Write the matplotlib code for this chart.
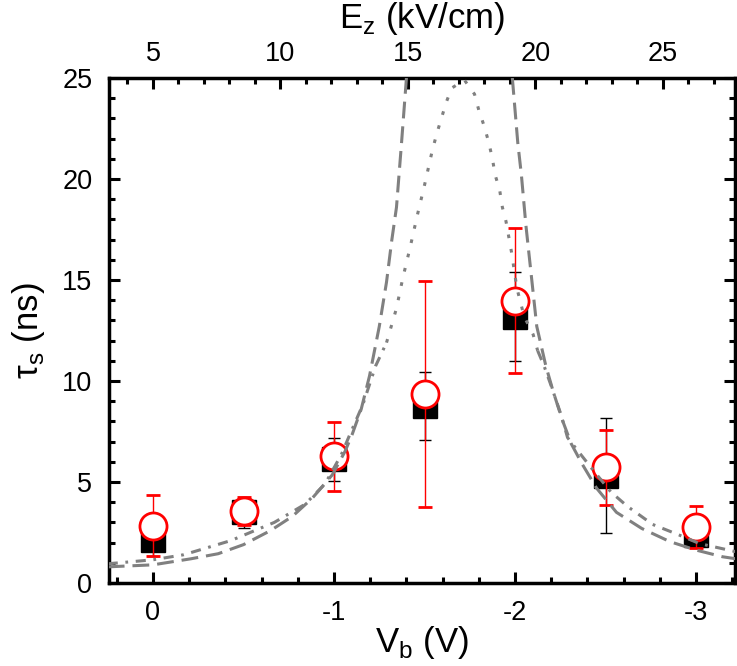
'''
Spin lifetime tau_s versus bias voltage V_b, with field E_z on the top axis.
'''

import matplotlib
matplotlib.use('Agg')
import matplotlib.pyplot as plt

plt.rcParams['font.family'] = ['Liberation Sans', 'DejaVu Sans']
plt.rcParams['mathtext.fontset'] = 'custom'
plt.rcParams['mathtext.rm'] = 'Liberation Sans'

# Measured points
v_bias = [0, -0.5, -1, -1.5, -2, -2.5, -3]
tau_sq = [2.14, 3.5, 6.12, 8.76, 13.18, 5.32, 2.39]
err_sq = [0.8, 0.77, 1.05, 1.67, 2.2, 2.85, 0.5]
tau_ci = [2.84, 3.58, 6.27, 9.35, 13.98, 5.72, 2.79]
err_ci = [1.5, 0.7, 1.72, 5.58, 3.6, 1.86, 1.04]

# Model curve 1 (dashed)
dash_v = [0.25, 0.0, -0.21, -0.36, -0.5, -0.65, -0.77, -0.88, -0.99, -1.06,
          -1.10, -1.15, -1.196, -1.25, -1.29, -1.318, -1.345, -1.373, -1.40]
dash_t = [0.8, 0.9, 1.2, 1.45, 1.9, 2.6, 3.3, 4.2, 5.35, 6.5,
          7.35, 8.6, 10.25, 12.7, 14.9, 16.9, 18.6, 21.8, 25.0]
dash_v2 = [-1.985, -2.015, -2.035, -2.06, -2.09, -2.12, -2.17, -2.21, -2.26,
           -2.31, -2.37, -2.45, -2.56, -2.70, -2.855, -3.0, -3.146, -3.22]
dash_t2 = [25.0, 21.8, 20.2, 17.7, 15.2, 12.7, 10.75, 9.5, 8.1,
           6.9, 5.9, 4.7, 3.5, 2.7, 2.05, 1.63, 1.3, 1.2]

# Model curve 2 (dash-dot, dotted near the peak)
dd_v = [0.25, 0.0, -0.17, -0.43, -0.67, -0.84, -0.95, -1.04, -1.085, -1.16,
        -1.23, -1.29, -1.345, -1.38, -1.42, -1.46, -1.50, -1.54, -1.566, -1.62,
        -1.65, -1.72, -1.776, -1.80, -1.83, -1.855, -1.875, -1.89, -1.915, -1.93,
        -1.95, -1.98, -2.01, -2.05, -2.10, -2.125, -2.16, -2.20, -2.255, -2.29,
        -2.32, -2.43, -2.53, -2.62, -2.76, -2.90, -3.02, -3.22]
dd_t = [0.95, 1.15, 1.4, 2.1, 3.0, 3.9, 4.9, 6.35, 7.3, 8.85,
        10.75, 11.9, 13.6, 15.1, 16.6, 18.2, 19.7, 21.3, 22.2, 23.8,
        24.5, 24.9, 24.2, 23.4, 22.6, 21.8, 21.0, 20.2, 19.45, 18.6,
        17.9, 16.4, 14.6, 13.2, 12.3, 11.5, 10.75, 9.75, 8.3, 7.2,
        6.85, 5.6, 4.5, 3.8, 2.9, 2.4, 1.95, 1.55]

fig = plt.figure(figsize=(7.37, 6.66), dpi=100)
ax = fig.add_axes([0.1479, 0.1246, 0.8494, 0.7583])

gray = '#808080'
dashed = (0, (5.5, 2.6))
dashdot = (0, (3.3, 2.5, 0.9, 2.5))
dotted = (0, (1.2, 3.6))
ax.plot(dash_v, dash_t, color=gray, lw=2.2, ls=dashed, zorder=5)
ax.plot(dash_v2, dash_t2, color=gray, lw=2.2, ls=dashed, zorder=5)
ax.plot(dd_v[:12], dd_t[:12], color=gray, lw=2.2, ls=dashdot, zorder=5)
ax.plot(dd_v[11:36], dd_t[11:36], color=gray, lw=2.2, ls=dotted, zorder=5)
ax.plot(dd_v[35:], dd_t[35:], color=gray, lw=2.2, ls=dashdot, zorder=5)

ax.errorbar(v_bias, tau_sq, yerr=err_sq, fmt='s', color='black', ms=17,
            ecolor='black', elinewidth=1, capsize=4.3, capthick=1, zorder=3)
ax.errorbar(v_bias, tau_ci, yerr=err_ci, fmt='o', ms=19.5, mfc='white',
            mec='red', mew=2, ecolor='red', elinewidth=1, capsize=4.8,
            capthick=1, zorder=4)

ax.set_xlim(0.243, -3.215)
ax.set_ylim(0, 25)
ax.set_xticks([0, -1, -2, -3])
ax.set_xticklabels(['0', '-1', '-2', '-3'])
ax.set_xticks([0.2 - 0.2 * i for i in range(18)], minor=True)
ax.set_yticks([0, 5, 10, 15, 20, 25])
ax.set_yticks(range(0, 26), minor=True)

ax.set_xlabel(r'V$_\mathregular{b}$ (V)', fontsize=25, labelpad=-1)
ax.set_ylabel(r'τ$_\mathregular{s}$ (ns)', fontsize=25, labelpad=11)

for s in ax.spines.values():
    s.set_linewidth(2.5)
ax.tick_params(which='both', direction='in', width=2.2, labelsize=19.5,
               top=False, right=True)
ax.tick_params(which='major', length=8, pad=12)
ax.tick_params(which='minor', length=4)

# top axis: electric field
top = ax.secondary_xaxis('top', functions=(lambda v: 5 - 7.1 * v,
                                           lambda e: (5 - e) / 7.1))
top.set_xticks([5, 10, 15, 20, 25])
top.set_xticks(range(3, 29), minor=True)
top.tick_params(which='both', direction='in', width=2.2, labelsize=19.5)
top.tick_params(which='major', length=8, pad=8)
top.tick_params(which='minor', length=4)
top.set_xlabel(r'E$_\mathregular{z}$ (kV/cm)', fontsize=25, labelpad=9)

fig.savefig('out.png', dpi=100)
